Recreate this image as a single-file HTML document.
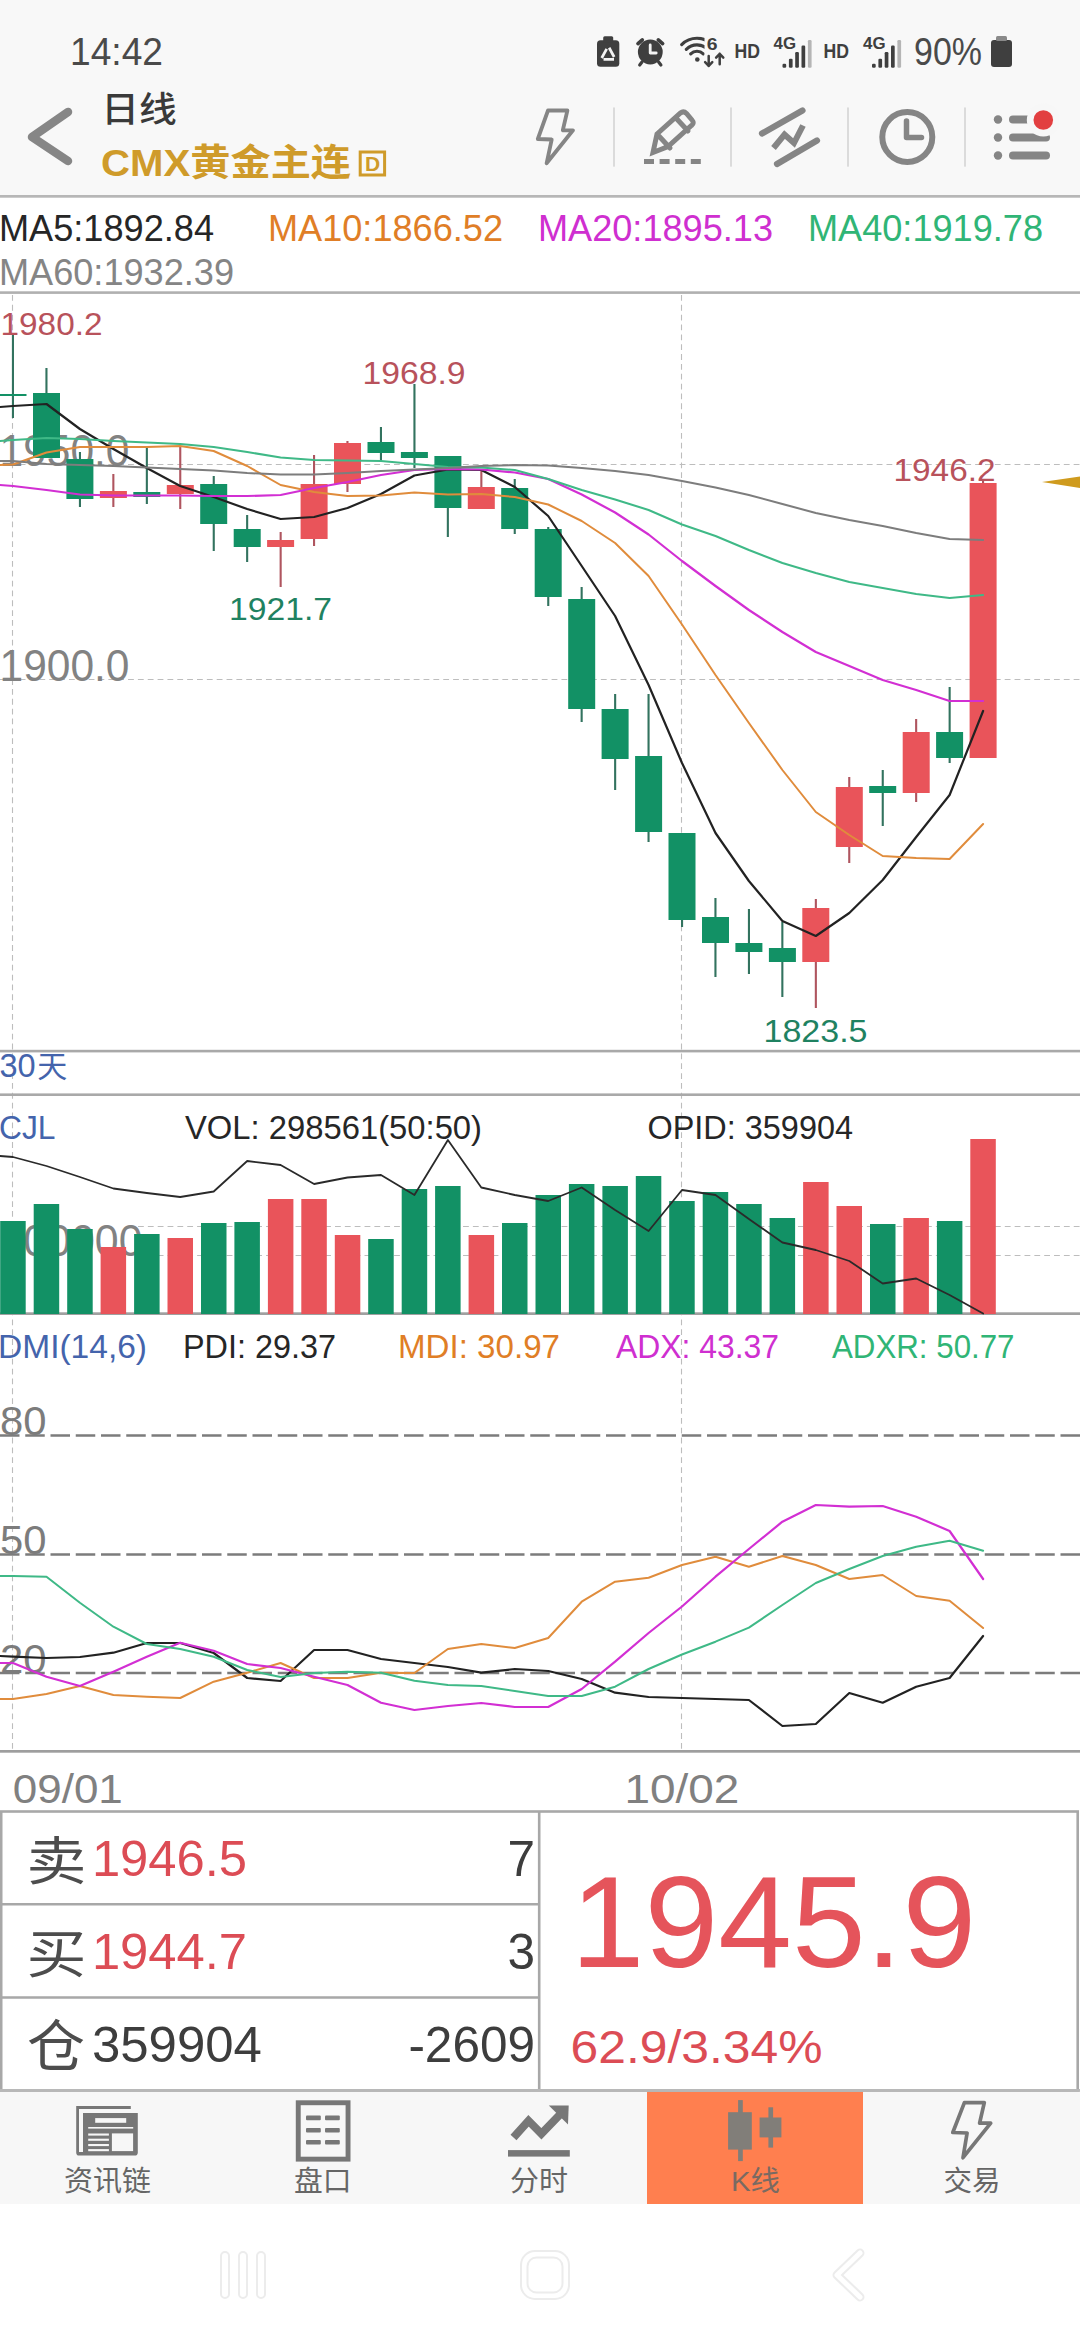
<!DOCTYPE html>
<html lang="zh-CN">
<head>
<meta charset="utf-8">
<meta name="viewport" content="width=1080">
<title>CMX黄金主连 日线</title>
<style>
html,body{margin:0;padding:0;background:#fff;}
body{width:1080px;height:2340px;position:relative;overflow:hidden;font-family:"Liberation Sans","Noto Sans CJK SC",sans-serif;}
.hdr{position:absolute;left:0;top:0;width:1080px;height:196px;background:#f8f8f8;}
.tab{position:absolute;left:0;top:2090px;width:1080px;height:114px;background:#f7f7f7;}
.tab .on{position:absolute;left:647px;top:1px;width:216px;height:113px;background:#ff7f4f;}
svg{position:absolute;left:0;top:0;}
svg text{font-family:"Liberation Sans","Noto Sans CJK SC",sans-serif;}
</style>
</head>
<body>
<div class="hdr"></div>
<div class="tab"><div class="on"></div></div>
<svg width="1080" height="2340" viewBox="0 0 1080 2340">

<g id="status">
<text x="70" y="64.5" font-size="38" fill="#4a4a4a" textLength="93" lengthAdjust="spacingAndGlyphs">14:42</text>
<rect x="597" y="40.300" width="22.300" height="26.500" rx="3.500" fill="#3f3f3f"/><rect x="603.200" y="36.200" width="10" height="6" rx="1.500" fill="#3f3f3f"/>
<path d="M608.200 46 L615.400 59.300 H601 Z" fill="none" stroke="#f4f4f4" stroke-width="2.700" stroke-linejoin="round" stroke-dasharray="10.500 4" stroke-dashoffset="-2"/>
<circle cx="650.300" cy="52" r="12.400" fill="#3f3f3f"/><path d="M638 43.600 l4.300 -3.700 M662.600 43.600 l-4.300 -3.700" stroke="#3f3f3f" stroke-width="3.700" stroke-linecap="round"/><path d="M642 62 l-2.300 3 M658.600 62 l2.300 3" stroke="#3f3f3f" stroke-width="3.200" stroke-linecap="round"/>
<path d="M650.200 45 v8 h6" fill="none" stroke="#f4f4f4" stroke-width="2.800" stroke-linecap="round" stroke-linejoin="round"/>
<clipPath id="wf"><rect x="675" y="30" width="29.500" height="40"/></clipPath>
<g clip-path="url(#wf)" fill="none" stroke="#3f3f3f" stroke-width="3.100" stroke-linecap="round"><path d="M681.700 44.600 A21.700 21.700 0 0 1 712.300 44.600"/><path d="M686.300 49.300 A15.100 15.100 0 0 1 707.700 49.300"/><path d="M690.700 53.800 A8.900 8.900 0 0 1 703.300 53.800"/></g><circle cx="697.300" cy="59.500" r="2.300" fill="#3f3f3f"/>
<text x="706.8" y="49.6" font-size="16.5" fill="#3f3f3f" textLength="10.8" lengthAdjust="spacingAndGlyphs" font-weight="bold">6</text>
<path d="M708.700 56 v10 m-3.600 -3.800 l3.600 3.800 l3.600 -3.800 M719.700 64.300 v-10.500 m-3.600 3.800 l3.600 -3.800 l3.600 3.800" fill="none" stroke="#3f3f3f" stroke-width="2.500" stroke-linecap="round" stroke-linejoin="round"/>
<text x="734.5" y="58.2" font-size="19.5" fill="#3f3f3f" textLength="25.5" lengthAdjust="spacingAndGlyphs" font-weight="bold">HD</text>
<text x="823.5" y="58.2" font-size="19.5" fill="#3f3f3f" textLength="25.5" lengthAdjust="spacingAndGlyphs" font-weight="bold">HD</text>
<text x="773.5" y="48.5" font-size="16.5" fill="#3f3f3f" textLength="22.5" lengthAdjust="spacingAndGlyphs" font-weight="bold">4G</text>
<rect x="782.5" y="63.8" width="3.700" height="3.9" rx="1.200" fill="#3f3f3f"/>
<rect x="788.9" y="58.8" width="3.700" height="8.9" rx="1.200" fill="#3f3f3f"/>
<rect x="795.2" y="52" width="3.700" height="15.7" rx="1.200" fill="#3f3f3f"/>
<rect x="801.5" y="45.5" width="3.700" height="22.2" rx="1.200" fill="#3f3f3f"/>
<rect x="807.9" y="40" width="3.700" height="27.7" rx="1.200" fill="#b5b5b5"/>
<text x="863" y="48.5" font-size="16.5" fill="#3f3f3f" textLength="22.5" lengthAdjust="spacingAndGlyphs" font-weight="bold">4G</text>
<rect x="872.0" y="63.8" width="3.700" height="3.9" rx="1.200" fill="#3f3f3f"/>
<rect x="878.4" y="58.8" width="3.700" height="8.9" rx="1.200" fill="#3f3f3f"/>
<rect x="884.7" y="52" width="3.700" height="15.7" rx="1.200" fill="#3f3f3f"/>
<rect x="891.0" y="45.5" width="3.700" height="22.2" rx="1.200" fill="#3f3f3f"/>
<rect x="897.4" y="40" width="3.700" height="27.7" rx="1.200" fill="#b5b5b5"/>
<text x="914" y="64.5" font-size="38" fill="#4a4a4a" textLength="68" lengthAdjust="spacingAndGlyphs">90%</text>
<rect x="991" y="40" width="21" height="27" rx="3" fill="#3f3f3f"/><rect x="996" y="36" width="11" height="5" rx="1.5" fill="#8a8a8a"/>
</g>
<g id="header">
<polyline points="68,112 32,137 68,161" fill="none" stroke="#868686" stroke-width="8.5" stroke-linecap="round" stroke-linejoin="round"/>
<text x="101.3" y="121.5" font-size="35" fill="#3a3a3a" textLength="75.5" lengthAdjust="spacingAndGlyphs" font-weight="500">日线</text>
<text x="101" y="176" font-size="37" fill="#cf9b2a" textLength="250" lengthAdjust="spacingAndGlyphs" font-weight="bold">CMX黄金主连</text>
<rect x="360.2" y="152" width="24.400" height="23" fill="none" stroke="#cf9b2a" stroke-width="3"/>
<text x="372.7" y="171.4" font-size="21" fill="#cf9b2a" text-anchor="middle" font-weight="bold">D</text>
<g fill="none" stroke="#858585" stroke-linecap="round" stroke-linejoin="round">
<path d="M548 110.500 L567.400 110.500 L562.800 130.300 L573 130.300 L546.600 163.300 L551.700 139.500 L537.800 139 z" stroke-width="3.800"/>
<path d="M614 108 v58 M731 108 v58 M848 108 v58 M965 108 v58" stroke="#d6d6d6" stroke-width="1.700"/>
<path d="M653 152.500 l4 -18.500 l23.500 -21 q3 -2.500 6 0.500 l5.500 6.500 q2.500 3 -0.500 5.500 l-23.500 21 z M657.500 134.500 l12.500 13.500 M675.500 117.500 l12.500 13.500" stroke-width="5" stroke-linejoin="miter"/>
<path d="M644 161.500 h57" stroke-width="5" stroke-dasharray="10 5.600" stroke-linecap="butt"/>
<path d="M762 133.500 l40.500 -23 M777 164 l40 -23.500" stroke-width="6.200"/><path d="M773.500 148 l11 -13.500 l9.500 8.500 l9 -17.500" stroke-width="6" stroke-linejoin="miter" stroke-linecap="butt"/>
<circle cx="907.3" cy="137" r="25" stroke-width="6"/><path d="M906.5 121 v16.500 h15" stroke-width="5.500"/>
</g>
<g fill="#858585"><circle cx="998" cy="119.500" r="4.200"/><circle cx="998" cy="137.500" r="4.200"/><circle cx="998" cy="155.500" r="4.200"/>
<rect x="1009" y="115.500" width="24" height="8" rx="4"/><rect x="1009" y="133.500" width="41" height="8" rx="4"/><rect x="1009" y="151.500" width="41" height="8" rx="4"/></g>
<circle cx="1043.300" cy="120" r="16.500" fill="#f7f7f7"/><circle cx="1043.300" cy="120" r="9.800" fill="#e23f40"/>
</g>
<g id="legend">
<rect x="0" y="195" width="1080" height="2.700" fill="#b7b7b7"/>
<text x="-1" y="241" font-size="36" fill="#262626" textLength="215" lengthAdjust="spacingAndGlyphs">MA5:1892.84</text>
<text x="268" y="241" font-size="36" fill="#e07e26" textLength="235" lengthAdjust="spacingAndGlyphs">MA10:1866.52</text>
<text x="538" y="241" font-size="36" fill="#cf2fd0" textLength="235" lengthAdjust="spacingAndGlyphs">MA20:1895.13</text>
<text x="808" y="241" font-size="36" fill="#30b576" textLength="235" lengthAdjust="spacingAndGlyphs">MA40:1919.78</text>
<text x="-1" y="285" font-size="36" fill="#858585" textLength="235" lengthAdjust="spacingAndGlyphs">MA60:1932.39</text>
<rect x="0" y="291.300" width="1080" height="2.600" fill="#b0b0b0"/>
</g>
<g id="kline">
<g stroke="#bdbdbd" stroke-width="1.100" stroke-dasharray="5.800 4.050" fill="none">
<path d="M12.500 295 V1750 M681.500 295 V1750"/>
<path d="M0 464.500 H1080 M0 679.500 H1080"/>
<path d="M138 1226.500 H1080 M138 1255.500 H1080"/>
</g>
<text x="-0.5" y="465.5" font-size="43.5" fill="#828282" textLength="130" lengthAdjust="spacingAndGlyphs">1950.0</text>
<text x="-0.5" y="680.5" font-size="43.5" fill="#828282" textLength="130" lengthAdjust="spacingAndGlyphs">1900.0</text>
<rect x="11.9" y="335" width="2.100" height="83" fill="#32735f"/>
<rect x="-0.5" y="394" width="27" height="2" fill="#129165"/>
<rect x="45.4" y="368" width="2.100" height="90" fill="#32735f"/>
<rect x="33.0" y="393" width="27" height="65" fill="#129165"/>
<rect x="78.9" y="452" width="2.100" height="55" fill="#32735f"/>
<rect x="66.4" y="459" width="27" height="40" fill="#129165"/>
<rect x="112.3" y="474" width="2.100" height="33" fill="#af555f"/>
<rect x="99.9" y="491" width="27" height="7" fill="#e9545a"/>
<rect x="145.8" y="448" width="2.100" height="56" fill="#32735f"/>
<rect x="133.3" y="492" width="27" height="5" fill="#129165"/>
<rect x="179.2" y="447" width="2.100" height="62" fill="#af555f"/>
<rect x="166.8" y="485" width="27" height="9" fill="#e9545a"/>
<rect x="212.7" y="476" width="2.100" height="75" fill="#32735f"/>
<rect x="200.2" y="484" width="27" height="40" fill="#129165"/>
<rect x="246.1" y="515" width="2.100" height="47" fill="#32735f"/>
<rect x="233.7" y="529" width="27" height="18" fill="#129165"/>
<rect x="279.6" y="532" width="2.100" height="55" fill="#af555f"/>
<rect x="267.1" y="540" width="27" height="7" fill="#e9545a"/>
<rect x="313.0" y="455" width="2.100" height="91" fill="#af555f"/>
<rect x="300.6" y="484" width="27" height="55" fill="#e9545a"/>
<rect x="346.4" y="441" width="2.100" height="51" fill="#af555f"/>
<rect x="334.0" y="443" width="27" height="41" fill="#e9545a"/>
<rect x="379.9" y="427" width="2.100" height="34" fill="#32735f"/>
<rect x="367.5" y="442" width="27" height="11" fill="#129165"/>
<rect x="413.4" y="384" width="2.100" height="84" fill="#32735f"/>
<rect x="400.9" y="452" width="27" height="6" fill="#129165"/>
<rect x="446.8" y="456" width="2.100" height="81" fill="#32735f"/>
<rect x="434.4" y="456" width="27" height="52" fill="#129165"/>
<rect x="480.3" y="470" width="2.100" height="39" fill="#af555f"/>
<rect x="467.8" y="487" width="27" height="22" fill="#e9545a"/>
<rect x="513.7" y="479" width="2.100" height="55" fill="#32735f"/>
<rect x="501.2" y="488" width="27" height="41" fill="#129165"/>
<rect x="547.2" y="527" width="2.100" height="79" fill="#32735f"/>
<rect x="534.7" y="529" width="27" height="68" fill="#129165"/>
<rect x="580.6" y="587" width="2.100" height="135" fill="#32735f"/>
<rect x="568.2" y="599" width="27" height="110" fill="#129165"/>
<rect x="614.1" y="694" width="2.100" height="96" fill="#32735f"/>
<rect x="601.6" y="709" width="27" height="50" fill="#129165"/>
<rect x="647.5" y="694" width="2.100" height="148" fill="#32735f"/>
<rect x="635.1" y="756" width="27" height="76" fill="#129165"/>
<rect x="681.0" y="833" width="2.100" height="94" fill="#32735f"/>
<rect x="668.5" y="833" width="27" height="87" fill="#129165"/>
<rect x="714.4" y="898" width="2.100" height="79" fill="#32735f"/>
<rect x="702.0" y="917" width="27" height="26" fill="#129165"/>
<rect x="747.9" y="909" width="2.100" height="65" fill="#32735f"/>
<rect x="735.4" y="943" width="27" height="9" fill="#129165"/>
<rect x="781.3" y="922" width="2.100" height="75" fill="#32735f"/>
<rect x="768.9" y="948" width="27" height="14" fill="#129165"/>
<rect x="814.8" y="899" width="2.100" height="109" fill="#af555f"/>
<rect x="802.3" y="908" width="27" height="54" fill="#e9545a"/>
<rect x="848.2" y="777" width="2.100" height="86" fill="#af555f"/>
<rect x="835.8" y="787" width="27" height="60" fill="#e9545a"/>
<rect x="881.7" y="770" width="2.100" height="56" fill="#32735f"/>
<rect x="869.2" y="786" width="27" height="7" fill="#129165"/>
<rect x="915.1" y="719" width="2.100" height="83" fill="#af555f"/>
<rect x="902.7" y="732" width="27" height="61" fill="#e9545a"/>
<rect x="948.6" y="687" width="2.100" height="76" fill="#32735f"/>
<rect x="936.1" y="732" width="27" height="26" fill="#129165"/>
<rect x="982.0" y="480" width="2.100" height="278" fill="#af555f"/>
<rect x="969.6" y="483" width="27" height="275" fill="#e9545a"/>
<polyline points="0,407.0 13.0,406.0 46.5,404.0 79.9,429.0 113.4,449.0 146.8,468.0 180.2,486.0 213.7,497.0 247.2,509.0 280.6,519.0 314.1,517.0 347.5,508.0 381.0,494.0 414.4,475.5 447.9,469.5 481.3,470.0 514.8,487.0 548.2,516.0 581.7,566.0 615.1,616.0 648.6,685.0 682.0,763.0 715.5,833.0 748.9,881.0 782.4,921.0 815.8,936.0 849.3,913.0 882.7,880.0 916.2,837.0 949.6,795.0 983.1,711.0" fill="none" stroke="#222222" stroke-width="2.2" stroke-linejoin="round" stroke-linecap="round"/>
<polyline points="0,465.0 13.0,464.5 46.5,452.5 79.9,447.0 113.4,447.0 146.8,447.0 180.2,446.0 213.7,451.0 247.2,466.0 280.6,485.0 314.1,492.0 347.5,496.0 381.0,495.5 414.4,492.5 447.9,494.5 481.3,494.0 514.8,497.0 548.2,504.5 581.7,521.0 615.1,543.0 648.6,576.0 682.0,624.5 715.5,675.0 748.9,723.0 782.4,770.0 815.8,812.0 849.3,835.0 882.7,856.0 916.2,858.0 949.6,859.0 983.1,824.0" fill="none" stroke="#e08c3c" stroke-width="2.0" stroke-linejoin="round" stroke-linecap="round"/>
<polyline points="0,485.0 13.0,486.0 46.5,490.0 79.9,494.5 113.4,495.5 146.8,495.5 180.2,495.5 213.7,496.0 247.2,496.0 280.6,495.0 314.1,488.0 347.5,482.0 381.0,475.0 414.4,470.0 447.9,469.0 481.3,469.5 514.8,472.5 548.2,479.0 581.7,494.5 615.1,512.5 648.6,534.5 682.0,561.0 715.5,586.0 748.9,610.0 782.4,632.0 815.8,652.0 849.3,666.0 882.7,680.0 916.2,690.0 949.6,701.0 983.1,701.0" fill="none" stroke="#d22fd3" stroke-width="2.2" stroke-linejoin="round" stroke-linecap="round"/>
<polyline points="0,441.0 13.0,440.0 46.5,438.0 79.9,439.0 113.4,441.0 146.8,442.5 180.2,444.0 213.7,447.0 247.2,452.0 280.6,457.5 314.1,460.0 347.5,460.5 381.0,461.0 414.4,464.0 447.9,467.0 481.3,467.5 514.8,470.0 548.2,479.0 581.7,490.0 615.1,499.5 648.6,510.0 682.0,524.5 715.5,536.0 748.9,550.0 782.4,563.0 815.8,573.0 849.3,582.0 882.7,588.0 916.2,594.0 949.6,598.0 983.1,595.0" fill="none" stroke="#3fb987" stroke-width="2.0" stroke-linejoin="round" stroke-linecap="round"/>
<polyline points="0,461.0 13.0,461.0 46.5,464.0 79.9,465.0 113.4,466.0 146.8,467.5 180.2,469.0 213.7,470.5 247.2,473.0 280.6,474.5 314.1,474.5 347.5,473.0 381.0,471.0 414.4,469.5 447.9,468.0 481.3,466.0 514.8,465.0 548.2,465.5 581.7,468.0 615.1,471.0 648.6,475.0 682.0,481.0 715.5,487.5 748.9,495.0 782.4,504.0 815.8,513.0 849.3,520.0 882.7,526.0 916.2,533.0 949.6,539.0 983.1,540.0" fill="none" stroke="#7d7d7d" stroke-width="2.0" stroke-linejoin="round" stroke-linecap="round"/>
<text x="0.5" y="335" font-size="31.5" fill="#b8525b" textLength="102" lengthAdjust="spacingAndGlyphs">1980.2</text>
<text x="362.5" y="383.5" font-size="31.5" fill="#b8525b" textLength="103" lengthAdjust="spacingAndGlyphs">1968.9</text>
<text x="229" y="619.5" font-size="31.5" fill="#1f8261" textLength="103" lengthAdjust="spacingAndGlyphs">1921.7</text>
<text x="893.5" y="480.5" font-size="31.5" fill="#b8525b" textLength="102" lengthAdjust="spacingAndGlyphs">1946.2</text>
<text x="763.5" y="1041.5" font-size="31.5" fill="#1f8261" textLength="104" lengthAdjust="spacingAndGlyphs">1823.5</text>
<path d="M1042 482 L1080 476.500 V488 z" fill="#cf9b1e"/>
<rect x="0" y="1049.800" width="1080" height="2.600" fill="#a9a9a9"/>
<text x="-0.500" y="1076.700" font-size="32.500" fill="#4464ac">30<tspan font-size="30" dx="1.500" dy="0.500">天</tspan></text>
<rect x="0" y="1093.400" width="1080" height="2.600" fill="#a9a9a9"/>
</g>
<g id="volume">
<rect x="0" y="1312.300" width="1080" height="2.700" fill="#a0a0a0"/>
<text x="-0.5" y="1255.5" font-size="43.5" fill="#828282" textLength="143" lengthAdjust="spacingAndGlyphs">100000</text>
<rect x="0.2" y="1221" width="25.500" height="93" fill="#129165"/>
<rect x="33.7" y="1204" width="25.500" height="110" fill="#129165"/>
<rect x="67.2" y="1229" width="25.500" height="85" fill="#129165"/>
<rect x="100.6" y="1247" width="25.500" height="67" fill="#e9545a"/>
<rect x="134.1" y="1234" width="25.500" height="80" fill="#129165"/>
<rect x="167.5" y="1238" width="25.500" height="76" fill="#e9545a"/>
<rect x="201.0" y="1223" width="25.500" height="91" fill="#129165"/>
<rect x="234.4" y="1222" width="25.500" height="92" fill="#129165"/>
<rect x="267.9" y="1199" width="25.500" height="115" fill="#e9545a"/>
<rect x="301.3" y="1199" width="25.500" height="115" fill="#e9545a"/>
<rect x="334.8" y="1235" width="25.500" height="79" fill="#e9545a"/>
<rect x="368.2" y="1239" width="25.500" height="75" fill="#129165"/>
<rect x="401.7" y="1189" width="25.500" height="125" fill="#129165"/>
<rect x="435.1" y="1186" width="25.500" height="128" fill="#129165"/>
<rect x="468.6" y="1235" width="25.500" height="79" fill="#e9545a"/>
<rect x="502.0" y="1223" width="25.500" height="91" fill="#129165"/>
<rect x="535.5" y="1195" width="25.500" height="119" fill="#129165"/>
<rect x="568.9" y="1184" width="25.500" height="130" fill="#129165"/>
<rect x="602.4" y="1186" width="25.500" height="128" fill="#129165"/>
<rect x="635.8" y="1176" width="25.500" height="138" fill="#129165"/>
<rect x="669.2" y="1201" width="25.500" height="113" fill="#129165"/>
<rect x="702.7" y="1192" width="25.500" height="122" fill="#129165"/>
<rect x="736.2" y="1204" width="25.500" height="110" fill="#129165"/>
<rect x="769.6" y="1218" width="25.500" height="96" fill="#129165"/>
<rect x="803.1" y="1182" width="25.500" height="132" fill="#e9545a"/>
<rect x="836.5" y="1206" width="25.500" height="108" fill="#e9545a"/>
<rect x="870.0" y="1224" width="25.500" height="90" fill="#129165"/>
<rect x="903.4" y="1218" width="25.500" height="96" fill="#e9545a"/>
<rect x="936.9" y="1221" width="25.500" height="93" fill="#129165"/>
<rect x="970.3" y="1139" width="25.500" height="175" fill="#e9545a"/>
<polyline points="0,1156.0 13.0,1157.0 46.5,1166.0 79.9,1177.0 113.4,1188.5 146.8,1193.0 180.2,1197.0 213.7,1191.5 247.2,1161.0 280.6,1165.0 314.1,1184.0 347.5,1177.5 381.0,1175.0 414.4,1195.0 447.9,1140.0 481.3,1187.5 514.8,1195.0 548.2,1201.0 581.7,1187.5 615.1,1210.0 648.6,1231.0 682.0,1190.0 715.5,1195.0 748.9,1219.0 782.4,1242.5 815.8,1250.0 849.3,1261.0 882.7,1283.5 916.2,1278.5 949.6,1295.0 983.1,1313.5" fill="none" stroke="#2a2a2a" stroke-width="1.8" stroke-linejoin="round" stroke-linecap="round"/>
<text x="-1" y="1138.5" font-size="33" fill="#4464ac" textLength="56.5" lengthAdjust="spacingAndGlyphs">CJL</text>
<text x="185" y="1138.5" font-size="33" fill="#262626" textLength="297" lengthAdjust="spacingAndGlyphs">VOL: 298561(50:50)</text>
<text x="647.5" y="1138.5" font-size="33" fill="#262626" textLength="205.5" lengthAdjust="spacingAndGlyphs">OPID: 359904</text>
</g>
<g id="dmi">
<text x="-2" y="1358.4" font-size="33.5" fill="#4464ac" textLength="149" lengthAdjust="spacingAndGlyphs">DMI(14,6)</text>
<text x="183" y="1358.4" font-size="33.5" fill="#262626" textLength="153" lengthAdjust="spacingAndGlyphs">PDI: 29.37</text>
<text x="398" y="1358.4" font-size="33.5" fill="#e07e26" textLength="162" lengthAdjust="spacingAndGlyphs">MDI: 30.97</text>
<text x="616" y="1358.4" font-size="33.5" fill="#cf2fd0" textLength="163" lengthAdjust="spacingAndGlyphs">ADX: 43.37</text>
<text x="832" y="1358.4" font-size="33.5" fill="#30b576" textLength="182.5" lengthAdjust="spacingAndGlyphs">ADXR: 50.77</text>
<path d="M0 1435.5 H1080" stroke="#7c7c7c" stroke-width="2.600" stroke-dasharray="19.500 5.750" fill="none"/>
<path d="M0 1554.5 H1080" stroke="#7c7c7c" stroke-width="2.600" stroke-dasharray="19.500 5.750" fill="none"/>
<path d="M0 1673 H1080" stroke="#7c7c7c" stroke-width="2.600" stroke-dasharray="19.500 5.750" fill="none"/>
<text x="0" y="1435.3" font-size="41" fill="#7c7c7c" textLength="46.5" lengthAdjust="spacingAndGlyphs">80</text>
<text x="0" y="1554.3" font-size="41" fill="#7c7c7c" textLength="46.5" lengthAdjust="spacingAndGlyphs">50</text>
<text x="0" y="1672.8" font-size="41" fill="#7c7c7c" textLength="46.5" lengthAdjust="spacingAndGlyphs">20</text>
<polyline points="0,1656.0 13.0,1656.7 46.5,1658.0 79.9,1657.0 113.4,1652.7 146.8,1643.0 180.2,1643.0 213.7,1653.0 247.2,1678.0 280.6,1681.0 314.1,1650.0 347.5,1650.0 381.0,1659.0 414.4,1663.0 447.9,1667.0 481.3,1672.7 514.8,1669.0 548.2,1671.0 581.7,1679.0 615.1,1692.7 648.6,1697.0 682.0,1698.0 715.5,1699.0 748.9,1700.0 782.4,1726.0 815.8,1724.0 849.3,1693.0 882.7,1702.7 916.2,1686.7 949.6,1678.0 983.1,1636.0" fill="none" stroke="#222222" stroke-width="2.2" stroke-linejoin="round" stroke-linecap="round"/>
<polyline points="0,1699.0 13.0,1699.0 46.5,1694.0 79.9,1686.0 113.4,1695.0 146.8,1696.7 180.2,1698.0 213.7,1681.7 247.2,1672.7 280.6,1663.0 314.1,1678.0 347.5,1678.0 381.0,1672.7 414.4,1673.0 447.9,1649.0 481.3,1644.0 514.8,1648.0 548.2,1638.0 581.7,1601.7 615.1,1581.7 648.6,1577.7 682.0,1565.0 715.5,1556.7 748.9,1566.7 782.4,1556.0 815.8,1565.0 849.3,1579.0 882.7,1575.0 916.2,1596.0 949.6,1600.7 983.1,1628.0" fill="none" stroke="#e08c3c" stroke-width="2.0" stroke-linejoin="round" stroke-linecap="round"/>
<polyline points="0,1663.0 13.0,1663.0 46.5,1676.7 79.9,1686.0 113.4,1671.7 146.8,1656.7 180.2,1642.7 213.7,1650.7 247.2,1664.0 280.6,1668.0 314.1,1676.7 347.5,1685.0 381.0,1702.7 414.4,1710.0 447.9,1706.0 481.3,1703.0 514.8,1707.0 548.2,1707.0 581.7,1689.0 615.1,1661.7 648.6,1633.0 682.0,1606.5 715.5,1576.7 748.9,1549.0 782.4,1521.7 815.8,1505.0 849.3,1506.7 882.7,1506.0 916.2,1516.7 949.6,1531.0 983.1,1579.0" fill="none" stroke="#d22fd3" stroke-width="2.2" stroke-linejoin="round" stroke-linecap="round"/>
<polyline points="0,1576.0 13.0,1576.0 46.5,1576.7 79.9,1602.7 113.4,1626.7 146.8,1644.0 180.2,1649.0 213.7,1656.7 247.2,1670.0 280.6,1677.0 314.1,1673.0 347.5,1671.7 381.0,1672.7 414.4,1680.7 447.9,1685.0 481.3,1686.0 514.8,1691.0 548.2,1696.0 581.7,1696.0 615.1,1686.7 648.6,1669.0 682.0,1654.5 715.5,1641.7 748.9,1627.7 782.4,1605.0 815.8,1583.0 849.3,1569.0 882.7,1556.0 916.2,1546.7 949.6,1540.7 983.1,1550.7" fill="none" stroke="#3fb987" stroke-width="2.0" stroke-linejoin="round" stroke-linecap="round"/>
<rect x="0" y="1750" width="1080" height="2.700" fill="#9e9e9e"/>
<text x="12.8" y="1802.5" font-size="41" fill="#808080" textLength="110" lengthAdjust="spacingAndGlyphs">09/01</text>
<text x="624.5" y="1802.5" font-size="41" fill="#808080" textLength="114.8" lengthAdjust="spacingAndGlyphs">10/02</text>
</g>
<g id="quote">
<g fill="none" stroke="#a8a8a8" stroke-width="2.600"><rect x="1.200" y="1811.500" width="1076.500" height="279"/><path d="M0 1904.300 H539 M0 1997.500 H539 M539.200 1811.500 V2090"/></g>
<text x="26.6" y="1880.0" font-size="52" fill="#4d4d4d" textLength="60" lengthAdjust="spacingAndGlyphs">卖</text>
<text x="91.9" y="1875.5" font-size="49.5" fill="#dc4c55" textLength="155.2" lengthAdjust="spacingAndGlyphs">1946.5</text>
<text x="535" y="1875.5" font-size="49.5" fill="#3d3d3d" text-anchor="end">7</text>
<text x="26.6" y="1973.0" font-size="52" fill="#4d4d4d" textLength="60" lengthAdjust="spacingAndGlyphs">买</text>
<text x="91.9" y="1968.5" font-size="49.5" fill="#dc4c55" textLength="155.2" lengthAdjust="spacingAndGlyphs">1944.7</text>
<text x="535" y="1968.5" font-size="49.5" fill="#3d3d3d" text-anchor="end">3</text>
<text x="27" y="2066.3" font-size="56" fill="#4d4d4d" textLength="58" lengthAdjust="spacingAndGlyphs">仓</text>
<text x="91.9" y="2061.5" font-size="49.5" fill="#3d3d3d" textLength="170" lengthAdjust="spacingAndGlyphs">359904</text>
<text x="535" y="2061.5" font-size="49.5" fill="#3d3d3d" text-anchor="end">-2609</text>
<text x="570.7" y="1967" font-size="129" fill="#e5545b" textLength="405.5" lengthAdjust="spacingAndGlyphs">1945.9</text>
<text x="570.5" y="2062.5" font-size="46" fill="#dc4c55" textLength="252" lengthAdjust="spacingAndGlyphs">62.9/3.34%</text>
</g>
<g id="tabbar">
<rect x="0" y="2089" width="1080" height="2.900" fill="#b8b8b8"/>
<path d="M76.200 2106 H130.800 V2109 H79 V2155.600 H79 Q76.200 2155.600 76.200 2152.500 z" fill="#777777"/>
<path d="M83 2113 H137.800 V2152.500 Q137.800 2155.600 134.800 2155.600 H79 V2152 H83 z" fill="#777777"/>
<g fill="#f7f7f7"><rect x="95.200" y="2118.100" width="31" height="4.700"/><rect x="88.200" y="2127" width="45" height="1.600"/>
<rect x="88.200" y="2133.500" width="20.700" height="2.100"/><rect x="88.200" y="2138.700" width="20.700" height="2.100"/><rect x="88.200" y="2144" width="20.700" height="2.100"/><rect x="88.200" y="2149.100" width="20.700" height="2.100"/>
<rect x="111.900" y="2133.400" width="21.200" height="17.700"/></g>
<rect x="298.250" y="2102.750" width="49.800" height="56.400" fill="none" stroke="#777777" stroke-width="4.900"/>
<g fill="#777777">
<rect x="306" y="2115.6" width="14.800" height="4.600" rx="1"/><rect x="325" y="2115.6" width="14.800" height="4.600" rx="1"/>
<rect x="306" y="2127.9" width="14.800" height="4.600" rx="1"/><rect x="325" y="2127.9" width="14.800" height="4.600" rx="1"/>
<rect x="306" y="2139.9" width="14.800" height="4.600" rx="1"/><rect x="325" y="2139.9" width="14.800" height="4.600" rx="1"/>
</g>
<polyline points="513.500,2137.500 528.500,2120.800 541.400,2133.800 560,2114.500" fill="none" stroke="#777777" stroke-width="8" stroke-linejoin="miter"/>
<path d="M548.800 2105.400 H568.700 L568 2124.600 z" fill="#777777"/>
<rect x="508" y="2150.100" width="61.800" height="6.500" fill="#777777"/>
<rect x="738.100" y="2100.100" width="4.700" height="61" fill="#817e79"/><rect x="728.100" y="2112.200" width="23.700" height="37.400" fill="#817e79"/>
<rect x="768.400" y="2107.300" width="4.700" height="40.300" fill="#817e79"/><rect x="759.600" y="2117.500" width="21.800" height="19.900" fill="#817e79"/>
<path d="M964.400 2102.600 L984.300 2102.600 L979.600 2123.200 L990.700 2123.200 L963 2157.700 L967.100 2133 L952.800 2132.500 z" fill="none" stroke="#777777" stroke-width="3.700" stroke-linejoin="round"/>
<text x="64" y="2190.5" font-size="28.5" fill="#666666" textLength="87" lengthAdjust="spacingAndGlyphs">资讯链</text>
<text x="294" y="2190.5" font-size="28.5" fill="#666666" textLength="57.5" lengthAdjust="spacingAndGlyphs">盘口</text>
<text x="510" y="2190.5" font-size="28.5" fill="#666666" textLength="58" lengthAdjust="spacingAndGlyphs">分时</text>
<text x="731" y="2190.5" font-size="28.5" fill="#7a6a62" textLength="49" lengthAdjust="spacingAndGlyphs">K线</text>
<text x="943.5" y="2190.5" font-size="28.5" fill="#666666" textLength="57" lengthAdjust="spacingAndGlyphs">交易</text>
</g>
<g id="sysnav" fill="#ffffff" stroke="#ececec" stroke-width="2">
<rect x="221" y="2252" width="8" height="46" rx="4"/><rect x="239" y="2252" width="8" height="46" rx="4"/><rect x="257" y="2252" width="8" height="46" rx="4"/>
<rect x="521" y="2251" width="48" height="48" rx="14"/><rect x="527.500" y="2257.500" width="35" height="35" rx="9"/>
<path d="M860 2253 l-23 22 l23 22" fill="none" stroke-width="9" stroke-linecap="round" stroke-linejoin="round"/><path d="M860 2253 l-23 22 l23 22" fill="none" stroke="#ffffff" stroke-width="5" stroke-linecap="round" stroke-linejoin="round"/>
</g>
</svg>
</body>
</html>
